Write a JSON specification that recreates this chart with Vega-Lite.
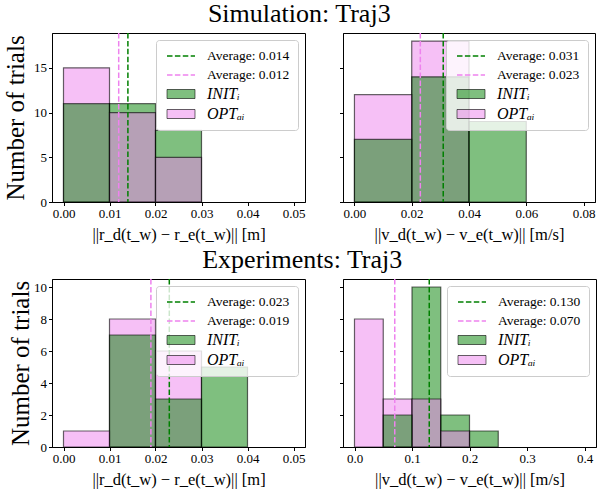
{
  "$schema": "https://vega.github.io/schema/vega-lite/v6.json",
  "padding": {"left": 2, "top": 0, "right": 0, "bottom": 0},
  "background": "white",
  "config": {
    "font": "Liberation Serif",
    "view": {"stroke": "black", "strokeWidth": 1},
    "axis": {"labelFont": "Liberation Serif", "labelFontSize": 13, "labelColor": "black", "tickColor": "black", "domainColor": "black", "tickSize": 3.5, "grid": false, "titleFont": "Liberation Serif", "titleFontWeight": "normal", "titleColor": "black", "titleFontSize": 16.5, "labelPadding": 2},
    "axisX": {"titlePadding": 6},
    "title": {"font": "Liberation Serif", "fontSize": 26, "fontWeight": "normal", "color": "black", "anchor": "middle", "offset": 5},
    "legend": {"fillColor": "rgba(255,255,255,0.8)", "strokeColor": "#cccccc", "cornerRadius": 3, "padding": 8, "symbolSize": 100, "labelFont": "Liberation Serif", "labelFontSize": 13.5, "labelColor": "black", "rowPadding": 4, "labelOffset": 27, "orient": "top-right", "offset": 7, "title": null}
  },
  "datasets": {
    "sim_r_bins": [
      {"label": "INITᵢ", "start": 0.0, "end": 0.01, "count": 11},
      {"label": "INITᵢ", "start": 0.01, "end": 0.02, "count": 11},
      {"label": "INITᵢ", "start": 0.02, "end": 0.03, "count": 8},
      {"label": "OPTₐᵢ", "start": 0.0, "end": 0.01, "count": 15},
      {"label": "OPTₐᵢ", "start": 0.01, "end": 0.02, "count": 10},
      {"label": "OPTₐᵢ", "start": 0.02, "end": 0.03, "count": 5}
    ],
    "sim_r_avg": [
      {"label": "Average: 0.014", "value": 0.014},
      {"label": "Average: 0.012", "value": 0.012}
    ],
    "sim_v_bins": [
      {"label": "INITᵢ", "start": 0.0, "end": 0.02, "count": 7},
      {"label": "INITᵢ", "start": 0.02, "end": 0.04, "count": 14},
      {"label": "INITᵢ", "start": 0.04, "end": 0.06, "count": 9},
      {"label": "OPTₐᵢ", "start": 0.0, "end": 0.02, "count": 12},
      {"label": "OPTₐᵢ", "start": 0.02, "end": 0.04, "count": 18}
    ],
    "sim_v_avg": [
      {"label": "Average: 0.031", "value": 0.031},
      {"label": "Average: 0.023", "value": 0.023}
    ],
    "exp_r_bins": [
      {"label": "INITᵢ", "start": 0.01, "end": 0.02, "count": 7},
      {"label": "INITᵢ", "start": 0.02, "end": 0.03, "count": 3},
      {"label": "INITᵢ", "start": 0.03, "end": 0.04, "count": 5},
      {"label": "OPTₐᵢ", "start": 0.0, "end": 0.01, "count": 1},
      {"label": "OPTₐᵢ", "start": 0.01, "end": 0.02, "count": 8},
      {"label": "OPTₐᵢ", "start": 0.02, "end": 0.03, "count": 6}
    ],
    "exp_r_avg": [
      {"label": "Average: 0.023", "value": 0.023},
      {"label": "Average: 0.019", "value": 0.019}
    ],
    "exp_v_bins": [
      {"label": "INITᵢ", "start": 0.05, "end": 0.1, "count": 2},
      {"label": "INITᵢ", "start": 0.1, "end": 0.15, "count": 10},
      {"label": "INITᵢ", "start": 0.15, "end": 0.2, "count": 2},
      {"label": "INITᵢ", "start": 0.2, "end": 0.25, "count": 1},
      {"label": "OPTₐᵢ", "start": 0.0, "end": 0.05, "count": 8},
      {"label": "OPTₐᵢ", "start": 0.05, "end": 0.1, "count": 3},
      {"label": "OPTₐᵢ", "start": 0.1, "end": 0.15, "count": 3},
      {"label": "OPTₐᵢ", "start": 0.15, "end": 0.2, "count": 1}
    ],
    "exp_v_avg": [
      {"label": "Average: 0.130", "value": 0.13},
      {"label": "Average: 0.070", "value": 0.07}
    ]
  },
  "columns": 1,
  "align": "none",
  "concat": [
    {
      "title": {"text": "Simulation: Traj3"},
      "spacing": 32,
      "resolve": {"scale": {"color": "independent", "strokeDash": "independent", "x": "independent", "y": "independent"}, "legend": {"color": "independent", "strokeDash": "independent"}},
      "hconcat": [
        {
          "width": 253, "height": 169,
          "layer": [
            {
              "data": {"name": "sim_r_bins"},
              "mark": {"type": "bar", "fillOpacity": 0.5, "stroke": "black", "strokeOpacity": 0.6, "strokeWidth": 1.2},
              "encoding": {
                "x": {"field": "start", "type": "quantitative", "scale": {"domain": [-0.0025, 0.0525], "nice": false, "zero": false}, "axis": {"values": [0, 0.01, 0.02, 0.03, 0.04, 0.05], "format": ".2f", "title": "||r_d(t_w) − r_e(t_w)|| [m]"}},
                "x2": {"field": "end"},
                "y": {"field": "count", "type": "quantitative", "stack": null, "scale": {"domain": [0, 18.9], "nice": false}, "axis": {"values": [0, 5, 10, 15], "title": "Number of trials", "titleFontSize": 25, "titlePadding": 5}},
                "y2": {"datum": 0},
                "order": {"field": "count", "sort": "descending"},
                "color": {"field": "label", "type": "nominal", "scale": {"domain": ["INITᵢ", "OPTₐᵢ", "Average: 0.014", "Average: 0.012"], "range": ["#008000", "#ee82ee", "#008000", "#ee82ee"]}, "legend": null}
              }
            },
            {
              "data": {"name": "sim_r_avg"},
              "mark": {"type": "rule", "strokeWidth": 1.5},
              "encoding": {
                "x": {"field": "value", "type": "quantitative"},
                "color": {"field": "label", "type": "nominal", "legend": null},
                "strokeDash": {"field": "label", "type": "nominal", "scale": {"domain": ["Average: 0.014", "Average: 0.012", "INITᵢ", "OPTₐᵢ"], "range": [[5.5, 2.4], [5.5, 2.4], [1, 0], [1, 0]]},
                  "legend": {"encoding": {
                    "symbols": {
                      "shape": {"value": {"expr": "datum.index < 2 ? 'M-1,0H4.6' : 'M-1,-0.9H4.6V0.9H-1Z'"}},
                      "fill": {"value": {"expr": "datum.index < 2 ? 'transparent' : (datum.index == 2 ? 'rgba(0,128,0,0.5)' : 'rgba(238,130,238,0.5)')"}},
                      "stroke": {"value": {"expr": "datum.index == 0 ? '#008000' : (datum.index == 1 ? '#ee82ee' : 'rgba(0,0,0,0.6)')"}},
                      "strokeWidth": {"value": {"expr": "datum.index < 2 ? 1.5 : 1"}},
                      "opacity": {"value": 1}
                    },
                    "labels": {
                      "fontStyle": {"value": {"expr": "datum.index < 2 ? 'normal' : 'italic'"}},
                      "fontSize": {"value": {"expr": "datum.index < 2 ? 13.5 : 16"}}
                    }
                  }}
                }
              }
            }
          ]
        },
        {
          "width": 252, "height": 169,
          "layer": [
            {
              "data": {"name": "sim_v_bins"},
              "mark": {"type": "bar", "fillOpacity": 0.5, "stroke": "black", "strokeOpacity": 0.6, "strokeWidth": 1.2},
              "encoding": {
                "x": {"field": "start", "type": "quantitative", "scale": {"domain": [-0.004, 0.084], "nice": false, "zero": false}, "axis": {"values": [0, 0.02, 0.04, 0.06, 0.08], "format": ".2f", "title": "||v_d(t_w) − v_e(t_w)|| [m/s]"}},
                "x2": {"field": "end"},
                "y": {"field": "count", "type": "quantitative", "stack": null, "scale": {"domain": [0, 18.9], "nice": false}, "axis": {"values": [0, 5, 10, 15], "labels": false, "title": null}},
                "y2": {"datum": 0},
                "order": {"field": "count", "sort": "descending"},
                "color": {"field": "label", "type": "nominal", "scale": {"domain": ["INITᵢ", "OPTₐᵢ", "Average: 0.031", "Average: 0.023"], "range": ["#008000", "#ee82ee", "#008000", "#ee82ee"]}, "legend": null}
              }
            },
            {
              "data": {"name": "sim_v_avg"},
              "mark": {"type": "rule", "strokeWidth": 1.5},
              "encoding": {
                "x": {"field": "value", "type": "quantitative"},
                "color": {"field": "label", "type": "nominal", "legend": null},
                "strokeDash": {"field": "label", "type": "nominal", "scale": {"domain": ["Average: 0.031", "Average: 0.023", "INITᵢ", "OPTₐᵢ"], "range": [[5.5, 2.4], [5.5, 2.4], [1, 0], [1, 0]]},
                  "legend": {"encoding": {
                    "symbols": {
                      "shape": {"value": {"expr": "datum.index < 2 ? 'M-1,0H4.6' : 'M-1,-0.9H4.6V0.9H-1Z'"}},
                      "fill": {"value": {"expr": "datum.index < 2 ? 'transparent' : (datum.index == 2 ? 'rgba(0,128,0,0.5)' : 'rgba(238,130,238,0.5)')"}},
                      "stroke": {"value": {"expr": "datum.index == 0 ? '#008000' : (datum.index == 1 ? '#ee82ee' : 'rgba(0,0,0,0.6)')"}},
                      "strokeWidth": {"value": {"expr": "datum.index < 2 ? 1.5 : 1"}},
                      "opacity": {"value": 1}
                    },
                    "labels": {
                      "fontStyle": {"value": {"expr": "datum.index < 2 ? 'normal' : 'italic'"}},
                      "fontSize": {"value": {"expr": "datum.index < 2 ? 13.5 : 16"}}
                    }
                  }}
                }
              }
            }
          ]
        }
      ]
    },
    {
      "title": {"text": "Experiments: Traj3"},
      "spacing": 32,
      "resolve": {"scale": {"color": "independent", "strokeDash": "independent", "x": "independent", "y": "independent"}, "legend": {"color": "independent", "strokeDash": "independent"}},
      "hconcat": [
        {
          "width": 253, "height": 168,
          "layer": [
            {
              "data": {"name": "exp_r_bins"},
              "mark": {"type": "bar", "fillOpacity": 0.5, "stroke": "black", "strokeOpacity": 0.6, "strokeWidth": 1.2},
              "encoding": {
                "x": {"field": "start", "type": "quantitative", "scale": {"domain": [-0.0025, 0.0525], "nice": false, "zero": false}, "axis": {"values": [0, 0.01, 0.02, 0.03, 0.04, 0.05], "format": ".2f", "title": "||r_d(t_w) − r_e(t_w)|| [m]"}},
                "x2": {"field": "end"},
                "y": {"field": "count", "type": "quantitative", "stack": null, "scale": {"domain": [0, 10.5], "nice": false}, "axis": {"values": [0, 2, 4, 6, 8, 10], "title": "Number of trials", "titleFontSize": 25, "titlePadding": 0}},
                "y2": {"datum": 0},
                "order": {"field": "count", "sort": "descending"},
                "color": {"field": "label", "type": "nominal", "scale": {"domain": ["INITᵢ", "OPTₐᵢ", "Average: 0.023", "Average: 0.019"], "range": ["#008000", "#ee82ee", "#008000", "#ee82ee"]}, "legend": null}
              }
            },
            {
              "data": {"name": "exp_r_avg"},
              "mark": {"type": "rule", "strokeWidth": 1.5},
              "encoding": {
                "x": {"field": "value", "type": "quantitative"},
                "color": {"field": "label", "type": "nominal", "legend": null},
                "strokeDash": {"field": "label", "type": "nominal", "scale": {"domain": ["Average: 0.023", "Average: 0.019", "INITᵢ", "OPTₐᵢ"], "range": [[5.5, 2.4], [5.5, 2.4], [1, 0], [1, 0]]},
                  "legend": {"encoding": {
                    "symbols": {
                      "shape": {"value": {"expr": "datum.index < 2 ? 'M-1,0H4.6' : 'M-1,-0.9H4.6V0.9H-1Z'"}},
                      "fill": {"value": {"expr": "datum.index < 2 ? 'transparent' : (datum.index == 2 ? 'rgba(0,128,0,0.5)' : 'rgba(238,130,238,0.5)')"}},
                      "stroke": {"value": {"expr": "datum.index == 0 ? '#008000' : (datum.index == 1 ? '#ee82ee' : 'rgba(0,0,0,0.6)')"}},
                      "strokeWidth": {"value": {"expr": "datum.index < 2 ? 1.5 : 1"}},
                      "opacity": {"value": 1}
                    },
                    "labels": {
                      "fontStyle": {"value": {"expr": "datum.index < 2 ? 'normal' : 'italic'"}},
                      "fontSize": {"value": {"expr": "datum.index < 2 ? 13.5 : 16"}}
                    }
                  }}
                }
              }
            }
          ]
        },
        {
          "width": 253, "height": 168,
          "layer": [
            {
              "data": {"name": "exp_v_bins"},
              "mark": {"type": "bar", "fillOpacity": 0.5, "stroke": "black", "strokeOpacity": 0.6, "strokeWidth": 1.2},
              "encoding": {
                "x": {"field": "start", "type": "quantitative", "scale": {"domain": [-0.02, 0.42], "nice": false, "zero": false}, "axis": {"values": [0, 0.1, 0.2, 0.3, 0.4], "format": ".1f", "title": "||v_d(t_w) − v_e(t_w)|| [m/s]"}},
                "x2": {"field": "end"},
                "y": {"field": "count", "type": "quantitative", "stack": null, "scale": {"domain": [0, 10.5], "nice": false}, "axis": {"values": [0, 2, 4, 6, 8, 10], "labels": false, "title": null}},
                "y2": {"datum": 0},
                "order": {"field": "count", "sort": "descending"},
                "color": {"field": "label", "type": "nominal", "scale": {"domain": ["INITᵢ", "OPTₐᵢ", "Average: 0.130", "Average: 0.070"], "range": ["#008000", "#ee82ee", "#008000", "#ee82ee"]}, "legend": null}
              }
            },
            {
              "data": {"name": "exp_v_avg"},
              "mark": {"type": "rule", "strokeWidth": 1.5},
              "encoding": {
                "x": {"field": "value", "type": "quantitative"},
                "color": {"field": "label", "type": "nominal", "legend": null},
                "strokeDash": {"field": "label", "type": "nominal", "scale": {"domain": ["Average: 0.130", "Average: 0.070", "INITᵢ", "OPTₐᵢ"], "range": [[5.5, 2.4], [5.5, 2.4], [1, 0], [1, 0]]},
                  "legend": {"encoding": {
                    "symbols": {
                      "shape": {"value": {"expr": "datum.index < 2 ? 'M-1,0H4.6' : 'M-1,-0.9H4.6V0.9H-1Z'"}},
                      "fill": {"value": {"expr": "datum.index < 2 ? 'transparent' : (datum.index == 2 ? 'rgba(0,128,0,0.5)' : 'rgba(238,130,238,0.5)')"}},
                      "stroke": {"value": {"expr": "datum.index == 0 ? '#008000' : (datum.index == 1 ? '#ee82ee' : 'rgba(0,0,0,0.6)')"}},
                      "strokeWidth": {"value": {"expr": "datum.index < 2 ? 1.5 : 1"}},
                      "opacity": {"value": 1}
                    },
                    "labels": {
                      "fontStyle": {"value": {"expr": "datum.index < 2 ? 'normal' : 'italic'"}},
                      "fontSize": {"value": {"expr": "datum.index < 2 ? 13.5 : 16"}}
                    }
                  }}
                }
              }
            }
          ]
        }
      ]
    }
  ],
  "spacing": 2
}
